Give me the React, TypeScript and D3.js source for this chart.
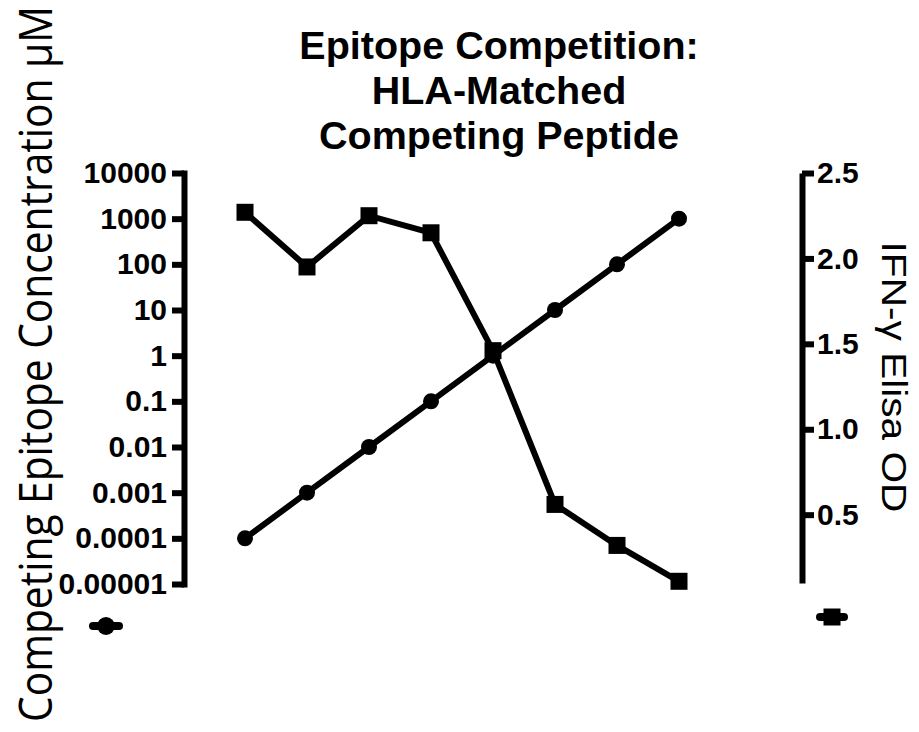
import React, { Component } from "react";
import * as d3 from "d3";

// x positions are just the order of the doses
const doseIndex = [0, 1, 2, 3, 4, 5, 6, 7];
const epitopeConc = [0.0001, 0.001, 0.01, 0.1, 1, 10, 100, 1000];
const elisaOD = [2.27, 1.95, 2.25, 2.15, 1.46, 0.56, 0.32, 0.11];
const concTicks = [1e-5, 1e-4, 1e-3, 1e-2, 1e-1, 1, 10, 100, 1000, 10000];
const concTickLabels = ["0.00001", "0.0001", "0.001", "0.01", "0.1", "1", "10", "100", "1000", "10000"];
const odTicks = [0.5, 1.0, 1.5, 2.0, 2.5];
const titleLines = ["Epitope Competition:", "HLA-Matched", "Competing Peptide"];

class App extends Component {
	node: HTMLDivElement | null = null;

	createChart() {
		const node = this.node;
		if (!node) return;
		while (node.firstChild) node.removeChild(node.firstChild);

		const width = 919;
		const height = 732;
		const lw = 6;
		const arial = "'Liberation Sans', Arial, sans-serif";

		const svg = d3
			.select(node)
			.append("svg")
			.attr("width", width)
			.attr("height", height)
			.style("position", "absolute")
			.style("left", 0)
			.style("top", 0)
			.style("background", "#fff");

		const x = d3.scaleLinear().domain([-1, 9]).range([183, 803]);
		const yLeft = d3.scaleLog().domain([1e-5, 1e4]).range([584, 173]);
		const yRight = d3.scaleLinear().domain([0.1, 2.5]).range([583, 173]);

		// title
		svg
			.append("g")
			.selectAll("text")
			.data(titleLines)
			.enter()
			.append("text")
			.attr("x", 499)
			.attr("y", (d, i) => 59 + i * 45)
			.attr("text-anchor", "middle")
			.style("font-family", arial)
			.style("font-weight", "bold")
			.style("font-size", "39.5px")
			.text(d => d);

		// left axis
		const leftAxis = d3
			.axisLeft(yLeft)
			.tickValues(concTicks)
			.tickFormat((d, i) => concTickLabels[i])
			.tickSizeInner(12)
			.tickSizeOuter(0)
			.tickPadding(5);
		const gl = svg.append("g").attr("transform", "translate(184,0)").call(leftAxis);
		gl.select(".domain").attr("stroke-width", lw).attr("stroke-linecap", "square");
		gl.selectAll(".tick line").attr("stroke-width", lw);
		gl.selectAll(".tick text")
			.style("font-family", arial)
			.style("font-weight", "bold")
			.style("font-size", "30px")
			.attr("fill", "#000");

		// right axis
		const rightAxis = d3
			.axisRight(yRight)
			.tickValues(odTicks)
			.tickFormat(d3.format(".1f"))
			.tickSizeInner(12)
			.tickSizeOuter(0)
			.tickPadding(3);
		const gr = svg.append("g").attr("transform", "translate(802,0)").call(rightAxis);
		gr.select(".domain").attr("stroke-width", lw);
		gr.selectAll(".tick line").attr("stroke-width", lw);
		gr.selectAll(".tick text")
			.style("font-family", arial)
			.style("font-weight", "bold")
			.style("font-size", "30px")
			.attr("fill", "#000");

		// axis titles: the source squeezes/stretches these along their length,
		// so scale each one to the length it has there
		const yTitle = svg
			.append("text")
			.attr("text-anchor", "middle")
			.style("font-family", "'Open Sans', sans-serif")
			.style("font-size", "46px")
			.text("Competing Epitope Concentration \u03bcM");
		const yLen = (yTitle.node() as SVGTextElement).getComputedTextLength() || 716;
		yTitle.attr("transform", `translate(52,364) rotate(-90) scale(${716 / yLen},1)`);

		const y2Title = svg
			.append("text")
			.attr("text-anchor", "middle")
			.style("font-family", arial)
			.style("font-size", "35px")
			.text("IFN-\u03b3 Elisa OD");
		const y2Len = (y2Title.node() as SVGTextElement).getComputedTextLength() || 271;
		y2Title.attr("transform", `translate(882,377) rotate(90) scale(${271 / y2Len},1)`);

		const concLine = d3
			.line<number>()
			.x(d => x(d))
			.y(d => yLeft(epitopeConc[d]));
		const odLine = d3
			.line<number>()
			.x(d => x(d))
			.y(d => yRight(elisaOD[d]));

		svg
			.append("path")
			.datum(doseIndex)
			.attr("d", concLine)
			.attr("fill", "none")
			.attr("stroke", "#000")
			.attr("stroke-width", lw);
		svg
			.append("path")
			.datum(doseIndex)
			.attr("d", odLine)
			.attr("fill", "none")
			.attr("stroke", "#000")
			.attr("stroke-width", lw);

		svg
			.selectAll(".dot")
			.data(doseIndex)
			.enter()
			.append("circle")
			.attr("class", "dot")
			.attr("cx", d => x(d))
			.attr("cy", d => yLeft(epitopeConc[d]))
			.attr("r", 8)
			.attr("fill", "#000");

		const sq = 17;
		svg
			.selectAll(".sq")
			.data(doseIndex)
			.enter()
			.append("rect")
			.attr("class", "sq")
			.attr("x", d => x(d) - sq / 2)
			.attr("y", d => yRight(elisaOD[d]) - sq / 2)
			.attr("width", sq)
			.attr("height", sq)
			.attr("fill", "#000");

		// legend symbols under the axes
		const legendCircle = svg.append("g").attr("transform", "translate(106,626)");
		legendCircle
			.append("line")
			.attr("x1", -13)
			.attr("x2", 13)
			.attr("stroke", "#000")
			.attr("stroke-width", 8)
			.attr("stroke-linecap", "round");
		legendCircle.append("circle").attr("r", 9).attr("fill", "#000");

		const legendSquare = svg.append("g").attr("transform", "translate(832,617)");
		legendSquare
			.append("line")
			.attr("x1", -12)
			.attr("x2", 12)
			.attr("stroke", "#000")
			.attr("stroke-width", 8)
			.attr("stroke-linecap", "round");
		legendSquare
			.append("rect")
			.attr("x", -8.5)
			.attr("y", -8.5)
			.attr("width", 17)
			.attr("height", 17)
			.attr("fill", "#000");
	}

	componentDidMount() {
		this.createChart();
	}

	componentDidUpdate() {
		this.createChart();
	}

	render() {
		return <div className="chartBox" ref={node => { this.node = node; }}></div>;
	}
}

export default App;
